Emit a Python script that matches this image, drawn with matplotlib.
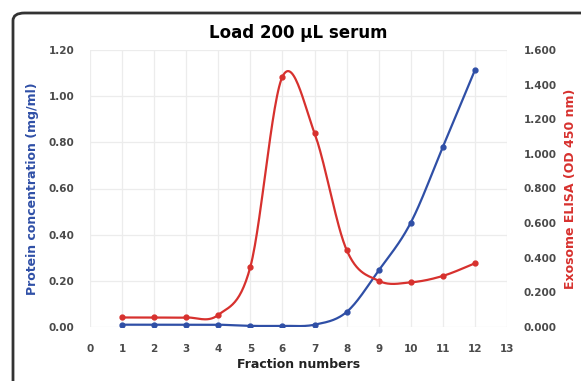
import numpy as np
import matplotlib
matplotlib.use("Agg")
import matplotlib.pyplot as plt
from matplotlib.patches import FancyBboxPatch

fractions = [1, 2, 3, 4, 5, 6, 7, 8, 9, 10, 11, 12]
protein_mg_ml = [0.01, 0.01, 0.01, 0.01, 0.005, 0.005, 0.01, 0.065, 0.245, 0.452, 0.78, 1.113]
exosome_od450 = [0.055, 0.055, 0.055, 0.07, 0.348, 1.446, 1.12, 0.445, 0.267, 0.258, 0.295, 0.368]
left_ticks = [0.0, 0.2, 0.4, 0.6, 0.8, 1.0, 1.2]
right_ticks = [0.0, 0.2, 0.4, 0.6, 0.8, 1.0, 1.2, 1.4, 1.6]
x_ticks = list(range(0, 14))

BLUE = "#2f4fa6"
RED = "#d7312e"
TICK = "#4a4a4a"


def smooth(xs, ys, n=30):
    """Parametric Catmull-Rom style Bezier smoothing through every point."""
    pts = np.column_stack([xs, ys]).astype(float)
    out = []
    for i in range(len(pts) - 1):
        p0 = pts[i - 1] if i > 0 else pts[i]
        p1, p2 = pts[i], pts[i + 1]
        p3 = pts[i + 2] if i + 2 < len(pts) else pts[i + 1]
        c1 = p1 + (p2 - p0) / 6.0
        c2 = p2 - (p3 - p1) / 6.0
        t = np.linspace(0, 1, n)[:, None]
        seg = ((1 - t) ** 3) * p1 + 3 * ((1 - t) ** 2) * t * c1 + 3 * (1 - t) * t ** 2 * c2 + t ** 3 * p2
        out.append(seg if i == 0 else seg[1:])
    seg = np.vstack(out)
    return seg[:, 0], seg[:, 1]


fig = plt.figure(figsize=(5.81, 3.81), dpi=100)
fig.patch.set_facecolor("white")

# rounded outer frame (right and bottom edges run past the canvas)
frame = FancyBboxPatch((13 / 581, -0.1), 1.1, 1 - 13 / 381 + 0.1,
                       boxstyle="round,pad=0,rounding_size=0.02",
                       transform=fig.transFigure, fill=False,
                       edgecolor="#333333", linewidth=2.0, clip_on=False)
fig.patches.append(frame)

ax = fig.add_axes([90 / 581, 1 - 327 / 381, (507 - 90) / 581, (327 - 50) / 381])
ax2 = ax.twinx()

ax.set_xlim(0, 13)
ax.set_ylim(0, 1.2)
ax2.set_ylim(0, 1.6)
ax.set_xticks(x_ticks)
ax.set_yticks(left_ticks)
ax2.set_yticks(right_ticks)
ax.set_yticklabels([f"{v:.2f}" for v in left_ticks])
ax2.set_yticklabels([f"{v:.3f}" for v in right_ticks])

ax.grid(True, color="#ececec", linewidth=0.9)
ax.set_axisbelow(True)
for a in (ax, ax2):
    for s in a.spines.values():
        s.set_visible(False)
    a.tick_params(length=0, labelsize=7.5, labelcolor=TICK)
    for lab in a.get_xticklabels() + a.get_yticklabels():
        lab.set_fontweight("bold")
ax.tick_params(axis="x", pad=12)
ax.tick_params(axis="y", pad=11)
ax2.tick_params(axis="y", pad=12)

bx, by = smooth(fractions, protein_mg_ml)
ax.plot(bx, by, color=BLUE, linewidth=1.6, zorder=3)
ax.plot(fractions, protein_mg_ml, "o", color=BLUE, markersize=3.5, zorder=4)

rx, ry = smooth(fractions, exosome_od450)
ax2.plot(rx, ry, color=RED, linewidth=1.6, zorder=3)
ax2.plot(fractions, exosome_od450, "o", color=RED, markersize=3.5, zorder=4)

ax.set_title("Load 200 µL serum", fontsize=12, fontweight="bold", pad=9)
ax.set_xlabel("Fraction numbers", fontsize=9, fontweight="bold", color="#222222", labelpad=3)
ax.set_ylabel("Protein concentration (mg/ml)", fontsize=9, fontweight="bold", color=BLUE, labelpad=7)
ax2.set_ylabel("Exosome ELISA (OD 450 nm)", fontsize=9, fontweight="bold", color=RED, labelpad=5)

fig.savefig("out.png", dpi=100)
